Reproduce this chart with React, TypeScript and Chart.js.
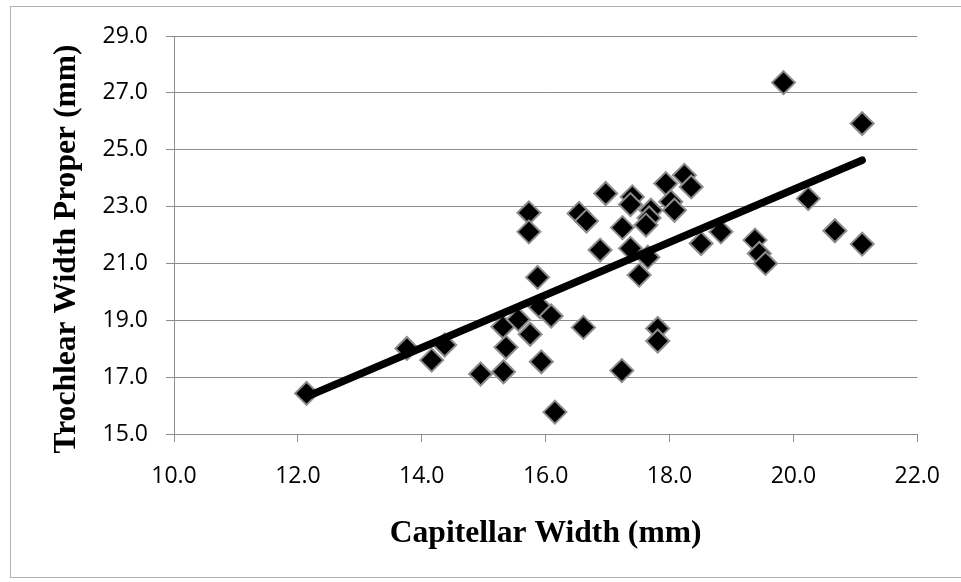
import React, { useEffect, useRef } from "react";
import { Chart, registerables } from "chart.js";

Chart.register(...registerables);

// Measurements per specimen (mm)
const capitellarWidth = [
  12.14, 13.76, 14.16, 14.37, 14.95, 15.32, 15.36, 15.31, 15.56, 15.75,
  15.93, 16.15, 15.87, 15.91, 16.09, 16.61, 17.23, 17.81, 17.81, 17.51,
  15.73, 15.73, 16.54, 16.66, 16.97, 17.24, 16.88, 17.37, 17.40, 17.37,
  17.70, 17.67, 17.62, 17.65, 17.94, 18.24, 18.35, 18.02, 18.08, 18.51,
  18.83, 19.38, 19.45, 19.55, 20.24, 20.67, 21.11, 19.84, 21.11,
];
const trochlearWidthProper = [
  16.43, 18.01, 17.60, 18.13, 17.11, 17.19, 18.05, 18.77, 19.03, 18.51,
  17.54, 15.77, 20.51, 19.47, 19.15, 18.75, 17.23, 18.71, 18.27, 20.59,
  22.78, 22.11, 22.76, 22.49, 23.46, 22.26, 21.47, 21.53, 23.34, 23.07,
  22.87, 22.60, 22.35, 21.22, 23.81, 24.10, 23.69, 23.17, 22.87, 21.70,
  22.11, 21.82, 21.35, 21.00, 23.28, 22.15, 21.68, 27.36, 25.92,
];

// Linear trendline end points
const trendX = [12.14, 21.11];
const trendY = [16.31, 24.63];

const xTicks = [10, 12, 14, 16, 18, 20, 22];
const yTicks = [15, 17, 19, 21, 23, 25, 27, 29];

const xTitle = "Capitellar Width (mm)";
const yTitle = "Trochlear Width Proper (mm)";

const GRID = "#8c8c8c";
const TICK_FONT = { family: "'Open Sans', sans-serif", size: 23 };
const TITLE_FONT = "bold 31.6px 'Liberation Serif', 'Times New Roman', serif";

const frameAndTitles = {
  id: "frameAndTitles",
  beforeDraw(chart: any) {
    const { ctx, width, height } = chart;
    ctx.save();
    ctx.fillStyle = "#ffffff";
    ctx.fillRect(0, 0, width, height);
    ctx.strokeStyle = "#b3b3b3";
    ctx.lineWidth = 1;
    ctx.strokeRect(10.5, 6.5, width, 571);
    ctx.restore();
  },
  afterDraw(chart: any) {
    const { ctx, chartArea } = chart;
    ctx.save();
    ctx.fillStyle = "#000000";
    ctx.font = TITLE_FONT;
    ctx.textAlign = "center";
    ctx.textBaseline = "alphabetic";
    ctx.fillText(xTitle, (chartArea.left + chartArea.right) / 2, chartArea.bottom + 108);
    ctx.translate(75, (chartArea.top + chartArea.bottom) / 2 + 14);
    ctx.rotate(-Math.PI / 2);
    ctx.fillText(yTitle, 0, 0);
    ctx.restore();
  },
};

export default function App() {
  const canvasRef = useRef<HTMLCanvasElement | null>(null);

  useEffect(() => {
    if (!canvasRef.current) return;
    const chart = new Chart(canvasRef.current, {
      type: "scatter",
      data: {
        datasets: [
          {
            type: "line",
            data: trendX.map((x, i) => ({ x, y: trendY[i] })),
            borderColor: "#000000",
            borderWidth: 7.5,
            borderCapStyle: "round",
            pointRadius: 0,
            fill: false,
            order: 0,
          } as any,
          {
            type: "scatter",
            data: capitellarWidth.map((x, i) => ({ x, y: trochlearWidthProper[i] })),
            pointStyle: "rectRot",
            pointRadius: 11.5,
            backgroundColor: "#000000",
            borderColor: "#8c8c8c",
            borderWidth: 2,
            order: 1,
          },
        ],
      },
      options: {
        animation: false,
        responsive: false,
        clip: false as any,
        layout: { padding: { left: 0, right: 43, top: 36, bottom: 0 } },
        plugins: {
          legend: { display: false },
          tooltip: { enabled: false },
        },
        scales: {
          x: {
            type: "linear",
            position: "bottom",
            min: 10,
            max: 22,
            afterBuildTicks: (s: any) => {
              s.ticks = xTicks.map((v) => ({ value: v }));
            },
            afterFit: (s: any) => {
              s.height = 148;
            },
            grid: {
              drawOnChartArea: false,
              drawTicks: true,
              tickLength: 8,
              color: GRID,
              lineWidth: 1,
            },
            border: { display: true, color: GRID, width: 1 },
            ticks: {
              color: "#000000",
              font: TICK_FONT,
              padding: 21,
              maxRotation: 0,
              callback: (v: any) => Number(v).toFixed(1),
            },
          },
          y: {
            type: "linear",
            min: 15,
            max: 29,
            afterBuildTicks: (s: any) => {
              s.ticks = yTicks.map((v) => ({ value: v }));
            },
            afterFit: (s: any) => {
              s.width = 174;
            },
            grid: {
              drawOnChartArea: true,
              drawTicks: true,
              tickLength: 8,
              color: GRID,
              lineWidth: 1,
            },
            border: { display: true, color: GRID, width: 1 },
            ticks: {
              color: "#000000",
              font: TICK_FONT,
              padding: 18,
              callback: (v: any) => Number(v).toFixed(1),
            },
          },
        },
      },
      plugins: [frameAndTitles],
    });
    return () => chart.destroy();
  }, []);

  return (
    <div style={{ position: "fixed", left: 0, top: 0, width: 961, height: 582, background: "#fff" }}>
      <canvas ref={canvasRef} width={961} height={582} style={{ display: "block" }} />
    </div>
  );
}
